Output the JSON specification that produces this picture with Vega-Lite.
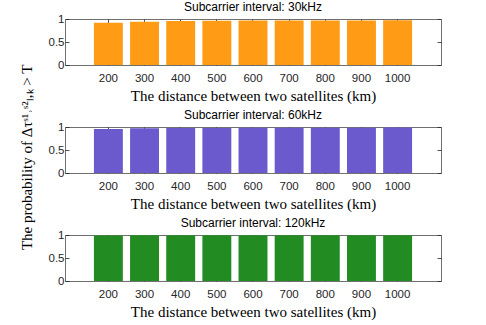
{
  "$schema": "https://vega.github.io/schema/vega-lite/v6.json",
  "background": "white",
  "padding": {"left": 19, "top": 0, "right": 5, "bottom": 2},
  "spacing": 4,
  "title": {"text": "The probability of Δτˢ¹˒ˢ²ₗ,ₖ > T", "orient": "left", "anchor": "middle", "font": "Liberation Serif", "fontSize": 15, "fontWeight": "normal", "color": "#000000", "offset": 13, "dx": 3},
  "datasets": {
    "s30": [
      {"distance": 200, "prob": 0.92},
      {"distance": 300, "prob": 0.94},
      {"distance": 400, "prob": 0.955},
      {"distance": 500, "prob": 0.962},
      {"distance": 600, "prob": 0.968},
      {"distance": 700, "prob": 0.968},
      {"distance": 800, "prob": 0.97},
      {"distance": 900, "prob": 0.97},
      {"distance": 1000, "prob": 0.972}
    ],
    "s60": [
      {"distance": 200, "prob": 0.957},
      {"distance": 300, "prob": 0.972},
      {"distance": 400, "prob": 0.978},
      {"distance": 500, "prob": 0.98},
      {"distance": 600, "prob": 0.983},
      {"distance": 700, "prob": 0.984},
      {"distance": 800, "prob": 0.985},
      {"distance": 900, "prob": 0.986},
      {"distance": 1000, "prob": 0.987}
    ],
    "s120": [
      {"distance": 200, "prob": 0.99},
      {"distance": 300, "prob": 0.993},
      {"distance": 400, "prob": 0.994},
      {"distance": 500, "prob": 0.995},
      {"distance": 600, "prob": 0.995},
      {"distance": 700, "prob": 0.996},
      {"distance": 800, "prob": 0.996},
      {"distance": 900, "prob": 0.996},
      {"distance": 1000, "prob": 0.997}
    ]
  },
  "config": {
    "view": {"stroke": "#707070", "strokeWidth": 1},
    "axis": {
      "labelFont": "Liberation Sans",
      "labelFontSize": 11.5,
      "labelColor": "#262626",
      "titleFont": "Liberation Serif",
      "titleFontSize": 15,
      "titleFontWeight": "normal",
      "titleColor": "#000000",
      "grid": false,
      "domain": false,
      "tickColor": "#262626",
      "tickSize": -4,
      "tickWidth": 0.8,
      "zindex": 1
    },
    "title": {"font": "Liberation Sans", "fontSize": 12, "fontWeight": "normal", "color": "#000000", "offset": -1.2}
  },
  "vconcat": [
    {
      "width": 376,
      "height": 46,
      "title": {"text": "Subcarrier interval: 30kHz", "anchor": "middle"},
      "data": {"name": "s30"},
      "layer": [
        {
          "mark": {"type": "bar", "color": "#FF9B15"},
          "encoding": {
            "x": {"field": "distance", "type": "ordinal", "scale": {"paddingInner": 0.2, "paddingOuter": 0.8},
                  "axis": {"orient": "bottom", "labelAngle": 0, "labelPadding": 11, "title": "The distance between two satellites (km)", "titlePadding": 5}},
            "y": {"field": "prob", "type": "quantitative", "scale": {"domain": [0, 1]},
                  "axis": {"orient": "left", "values": [0, 0.5, 1], "format": "~g", "labelPadding": 5, "title": null}}
          }
        },
        {
          "mark": {"type": "bar", "opacity": 0},
          "encoding": {
            "x": {"field": "distance", "type": "ordinal", "axis": {"orient": "top", "labels": false, "title": null}},
            "y": {"field": "prob", "type": "quantitative", "axis": {"orient": "right", "labels": false, "values": [0, 0.5, 1], "title": null}}
          }
        }
      ],
      "resolve": {"axis": {"x": "independent", "y": "independent"}}
    },
    {
      "width": 376,
      "height": 46,
      "title": {"text": "Subcarrier interval: 60kHz", "anchor": "middle"},
      "data": {"name": "s60"},
      "layer": [
        {
          "mark": {"type": "bar", "color": "#6A5ACD"},
          "encoding": {
            "x": {"field": "distance", "type": "ordinal", "scale": {"paddingInner": 0.2, "paddingOuter": 0.8},
                  "axis": {"orient": "bottom", "labelAngle": 0, "labelPadding": 11, "title": "The distance between two satellites (km)", "titlePadding": 5}},
            "y": {"field": "prob", "type": "quantitative", "scale": {"domain": [0, 1]},
                  "axis": {"orient": "left", "values": [0, 0.5, 1], "format": "~g", "labelPadding": 5, "title": null}}
          }
        },
        {
          "mark": {"type": "bar", "opacity": 0},
          "encoding": {
            "x": {"field": "distance", "type": "ordinal", "axis": {"orient": "top", "labels": false, "title": null}},
            "y": {"field": "prob", "type": "quantitative", "axis": {"orient": "right", "labels": false, "values": [0, 0.5, 1], "title": null}}
          }
        }
      ],
      "resolve": {"axis": {"x": "independent", "y": "independent"}}
    },
    {
      "width": 376,
      "height": 46,
      "title": {"text": "Subcarrier interval: 120kHz", "anchor": "middle"},
      "data": {"name": "s120"},
      "layer": [
        {
          "mark": {"type": "bar", "color": "#228B22"},
          "encoding": {
            "x": {"field": "distance", "type": "ordinal", "scale": {"paddingInner": 0.2, "paddingOuter": 0.8},
                  "axis": {"orient": "bottom", "labelAngle": 0, "labelPadding": 11, "title": "The distance between two satellites (km)", "titlePadding": 5}},
            "y": {"field": "prob", "type": "quantitative", "scale": {"domain": [0, 1]},
                  "axis": {"orient": "left", "values": [0, 0.5, 1], "format": "~g", "labelPadding": 5, "title": null}}
          }
        },
        {
          "mark": {"type": "bar", "opacity": 0},
          "encoding": {
            "x": {"field": "distance", "type": "ordinal", "axis": {"orient": "top", "labels": false, "title": null}},
            "y": {"field": "prob", "type": "quantitative", "axis": {"orient": "right", "labels": false, "values": [0, 0.5, 1], "title": null}}
          }
        }
      ],
      "resolve": {"axis": {"x": "independent", "y": "independent"}}
    }
  ]
}
